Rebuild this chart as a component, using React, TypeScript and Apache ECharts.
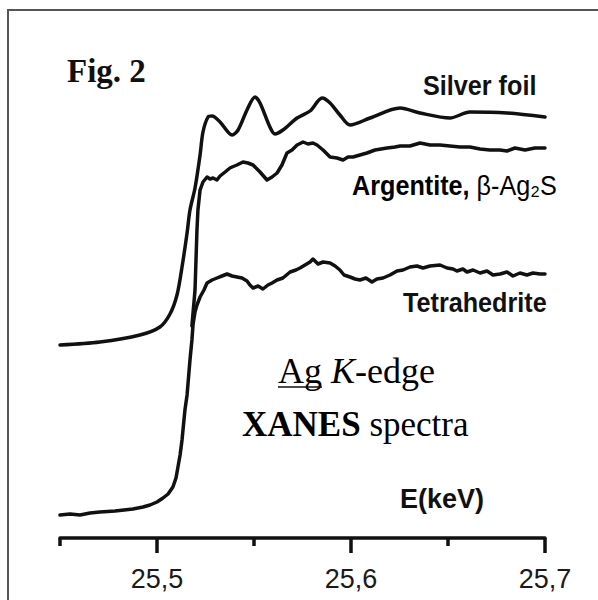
import React, { useEffect, useRef } from 'react';
import * as echarts from 'echarts';

// Energies (keV) and normalized absorption (offset, arbitrary units)
const silverE = [25.4500, 25.4706, 25.4912, 25.5015, 25.5067, 25.5103, 25.5129, 25.5155, 25.5170, 25.5196, 25.5222, 25.5237, 25.5263, 25.5284, 25.5325, 25.5387, 25.5418, 25.5464, 25.5505, 25.5531, 25.5582, 25.5608, 25.5649, 25.5722, 25.5789, 25.5851, 25.5892, 25.5943, 25.5995, 25.6098, 25.6253, 25.6356, 25.6510, 25.6613, 25.6804, 25.7000];
const silverMu = [1.93, 1.96, 2.03, 2.11, 2.24, 2.43, 2.71, 3.05, 3.28, 3.50, 3.83, 4.06, 4.21, 4.22, 4.16, 4.03, 4.08, 4.28, 4.41, 4.35, 4.11, 4.04, 4.08, 4.20, 4.27, 4.40, 4.35, 4.23, 4.13, 4.20, 4.30, 4.25, 4.20, 4.26, 4.25, 4.21];

const argE = [25.5180, 25.5196, 25.5201, 25.5206, 25.5211, 25.5222, 25.5237, 25.5258, 25.5273, 25.5289, 25.5309, 25.5325, 25.5351, 25.5376, 25.5387, 25.5412, 25.5443, 25.5469, 25.5495, 25.5531, 25.5567, 25.5593, 25.5619, 25.5644, 25.5670, 25.5696, 25.5722, 25.5753, 25.5778, 25.5804, 25.5825, 25.5856, 25.5892, 25.5928, 25.5959, 25.5985, 25.6010, 25.6046, 25.6082, 25.6124, 25.6186, 25.6227, 25.6253, 25.6304, 25.6356, 25.6407, 25.6459, 25.6510, 25.6562, 25.6613, 25.6665, 25.6716, 25.6768, 25.6804, 25.6845, 25.6897, 25.6948, 25.7000];
const argMu = [2.12, 2.48, 2.78, 3.08, 3.28, 3.48, 3.56, 3.61, 3.59, 3.60, 3.58, 3.62, 3.66, 3.70, 3.71, 3.73, 3.76, 3.75, 3.73, 3.66, 3.58, 3.61, 3.65, 3.73, 3.85, 3.88, 3.93, 3.96, 3.94, 3.95, 3.93, 3.88, 3.81, 3.80, 3.78, 3.81, 3.81, 3.83, 3.85, 3.88, 3.90, 3.91, 3.92, 3.92, 3.95, 3.93, 3.93, 3.92, 3.91, 3.91, 3.89, 3.88, 3.88, 3.87, 3.90, 3.88, 3.90, 3.90];

const tetE = [25.4500, 25.4552, 25.4603, 25.4655, 25.4706, 25.4784, 25.4876, 25.4928, 25.4964, 25.5000, 25.5031, 25.5057, 25.5082, 25.5098, 25.5108, 25.5119, 25.5129, 25.5144, 25.5155, 25.5170, 25.5180, 25.5186, 25.5196, 25.5206, 25.5222, 25.5242, 25.5258, 25.5284, 25.5309, 25.5335, 25.5361, 25.5387, 25.5412, 25.5438, 25.5464, 25.5479, 25.5495, 25.5521, 25.5546, 25.5572, 25.5593, 25.5619, 25.5649, 25.5686, 25.5716, 25.5737, 25.5763, 25.5789, 25.5804, 25.5830, 25.5856, 25.5892, 25.5918, 25.5943, 25.5964, 25.5995, 25.6021, 25.6046, 25.6077, 25.6108, 25.6134, 25.6165, 25.6201, 25.6237, 25.6268, 25.6304, 25.6340, 25.6371, 25.6407, 25.6459, 25.6495, 25.6526, 25.6546, 25.6577, 25.6598, 25.6629, 25.6665, 25.6701, 25.6732, 25.6768, 25.6804, 25.6835, 25.6871, 25.6907, 25.6938, 25.6974, 25.7000];
const tetMu = [0.23, 0.24, 0.23, 0.25, 0.26, 0.27, 0.29, 0.31, 0.33, 0.36, 0.40, 0.44, 0.51, 0.60, 0.71, 0.83, 0.98, 1.28, 1.43, 1.78, 1.98, 2.14, 2.26, 2.33, 2.41, 2.48, 2.55, 2.58, 2.60, 2.62, 2.64, 2.62, 2.61, 2.60, 2.57, 2.53, 2.50, 2.52, 2.49, 2.53, 2.55, 2.58, 2.60, 2.66, 2.68, 2.70, 2.73, 2.76, 2.79, 2.74, 2.76, 2.75, 2.72, 2.68, 2.63, 2.61, 2.59, 2.58, 2.60, 2.56, 2.59, 2.60, 2.63, 2.67, 2.68, 2.71, 2.72, 2.70, 2.72, 2.73, 2.70, 2.69, 2.67, 2.69, 2.66, 2.68, 2.65, 2.67, 2.63, 2.64, 2.66, 2.62, 2.65, 2.63, 2.65, 2.64, 2.64];

const majorTicks = [25.5, 25.6, 25.7];
const minorTicks = [25.45, 25.55, 25.65];
const tickLabels = ['25,5', '25,6', '25,7'];

const pair = (xs: number[], ys: number[]) => xs.map((x, i) => [x, ys[i]]);

export default function App() {
  const ref = useRef<HTMLDivElement>(null);
  useEffect(() => {
    const chart = echarts.init(ref.current!, null, { renderer: 'svg' });
    const lineStyle = { color: '#111', width: 3.5, join: 'round', cap: 'round' };
    const sansBold = { fontFamily: 'Liberation Sans, Arial, sans-serif', fontWeight: 'bold', fill: '#111' };
    chart.setOption({
      animation: false,
      backgroundColor: '#fff',
      grid: { left: 60, right: 53, top: 10, bottom: 62 },
      xAxis: [
        {
          type: 'value', min: 25.45, max: 25.7, position: 'bottom',
          axisLine: { show: true, lineStyle: { color: '#111', width: 3.5 } },
          axisTick: { show: true, customValues: minorTicks, length: 8, lineStyle: { color: '#111', width: 3.5 } },
          axisLabel: {
            show: true, customValues: majorTicks, margin: 27, fontSize: 27,
            fontFamily: 'Liberation Sans, Arial, sans-serif', color: '#1a1a1a',
            formatter: (v: number) => {
              let best = 0;
              majorTicks.forEach((t, i) => { if (Math.abs(t - v) < Math.abs(majorTicks[best] - v)) best = i; });
              return tickLabels[best];
            },
          },
          splitLine: { show: false },
        },
        {
          type: 'value', min: 25.45, max: 25.7, position: 'bottom',
          axisLine: { show: false },
          axisTick: { show: true, customValues: majorTicks, length: 15, lineStyle: { color: '#111', width: 3.5 } },
          axisLabel: { show: false },
          splitLine: { show: false },
        },
      ],
      yAxis: { type: 'value', min: 0, max: 5.28, show: false },
      series: [
        { name: 'Silver foil', type: 'line', data: pair(silverE, silverMu), showSymbol: false, smooth: 0.3, lineStyle },
        { name: 'Argentite', type: 'line', data: pair(argE, argMu), showSymbol: false, lineStyle },
        { name: 'Tetrahedrite', type: 'line', data: pair(tetE, tetMu), showSymbol: false, lineStyle },
      ],
      graphic: [
        { type: 'rect', shape: { x: 8, y: 10, width: 800, height: 800 }, style: { fill: 'none', stroke: '#555', lineWidth: 2 }, silent: true },
        { type: 'text', x: 67, y: 71, style: { text: 'Fig. 2', fontFamily: 'Liberation Serif, Times New Roman, serif', fontWeight: 'bold', fontSize: 33, fill: '#111', textVerticalAlign: 'middle', verticalAlign: 'middle' } },
        { type: 'text', x: 423, y: 86, scaleX: 0.9, style: { text: 'Silver foil', ...sansBold, fontSize: 28, textVerticalAlign: 'middle', verticalAlign: 'middle' } },
        {
          type: 'text', x: 352, y: 186, scaleX: 0.9,
          style: {
            text: '{a|Argentite, }{b|β-Ag₂S}', textVerticalAlign: 'middle', verticalAlign: 'middle',
            rich: {
              a: { fontFamily: 'Liberation Sans, Arial, sans-serif', fontWeight: 'bold', fontSize: 28, color: '#111' },
              b: { fontFamily: 'Liberation Sans, Arial, sans-serif', fontWeight: 'normal', fontSize: 28, color: '#111' },
            },
          },
        },
        { type: 'text', x: 403, y: 303, scaleX: 0.9, style: { text: 'Tetrahedrite', ...sansBold, fontSize: 28, textVerticalAlign: 'middle', verticalAlign: 'middle' } },
        {
          type: 'text', x: 278, y: 371,
          style: {
            text: '{n|Ag }{i|K}{n|-edge}', textVerticalAlign: 'middle', verticalAlign: 'middle',
            rich: {
              n: { fontFamily: 'Liberation Serif, Times New Roman, serif', fontSize: 36, color: '#111' },
              i: { fontFamily: 'Liberation Serif, Times New Roman, serif', fontStyle: 'italic', fontSize: 36, color: '#111' },
            },
          },
        },
        { type: 'line', shape: { x1: 278, y1: 387, x2: 322, y2: 387 }, style: { stroke: '#111', lineWidth: 1.5 } },
        {
          type: 'text', x: 242, y: 424,
          style: {
            text: '{b|XANES }{n|spectra}', textVerticalAlign: 'middle', verticalAlign: 'middle',
            rich: {
              b: { fontFamily: 'Liberation Serif, Times New Roman, serif', fontWeight: 'bold', fontSize: 35, color: '#111' },
              n: { fontFamily: 'Liberation Serif, Times New Roman, serif', fontSize: 35, color: '#111' },
            },
          },
        },
        { type: 'text', x: 400, y: 499, style: { text: 'E(keV)', ...sansBold, fontSize: 27, textVerticalAlign: 'middle', verticalAlign: 'middle' } },
      ],
    });
    return () => chart.dispose();
  }, []);
  return <div ref={ref} style={{ position: 'absolute', left: 0, top: 0, width: 598, height: 600, background: '#fff' }} />;
}
